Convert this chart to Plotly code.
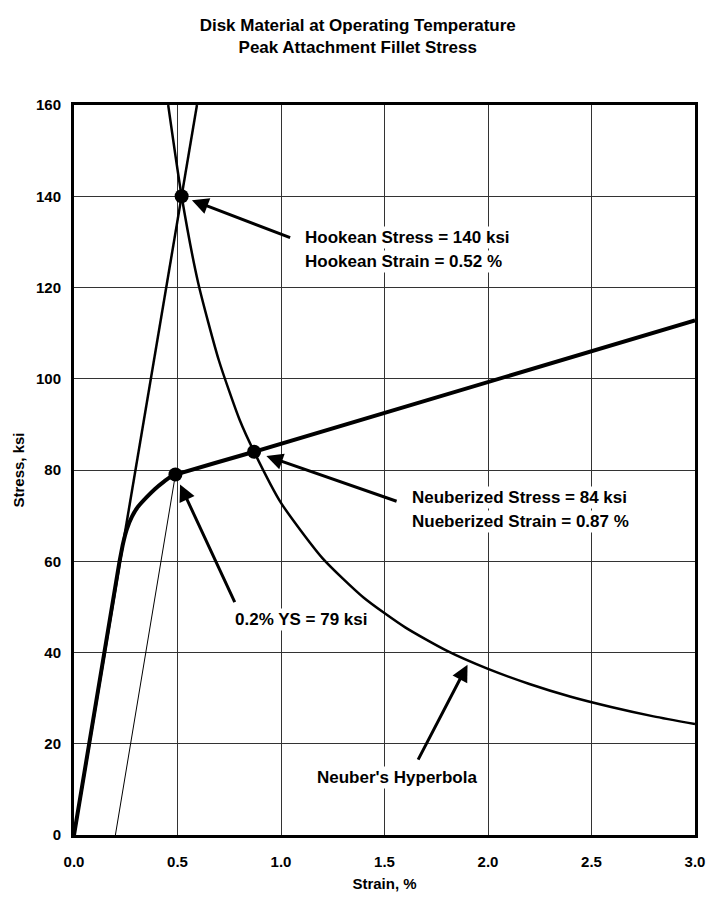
import plotly.graph_objects as go

# ---- data ----
curve_strain = [0.0, 0.22, 0.235, 0.255, 0.28, 0.31, 0.35, 0.39, 0.43, 0.46, 0.49, 0.87, 3.0]
curve_stress = [0.0, 60.0, 63.5, 67.0, 69.8, 72.0, 74.0, 75.8, 77.3, 78.3, 79.0, 84.0, 112.8]

hooke_strain = [0.0, 0.594]
hooke_stress = [0.0, 160.0]

offset_strain = [0.2, 0.49]
offset_stress = [0.0, 79.0]

neuber_strain = [0.455, 0.52, 0.60, 0.70, 0.80, 0.87, 1.0, 1.2, 1.4, 1.6, 1.8, 2.0, 2.2, 2.4, 2.6, 2.8, 3.0]
neuber_stress = [160.0, 140.0, 121.0, 104.0, 91.0, 84.0, 72.8, 60.7, 52.0, 45.5, 40.4, 36.4, 33.1, 30.3, 28.0, 26.0, 24.3]

point_strain = [0.52, 0.87, 0.49]
point_stress = [140.0, 84.0, 79.0]

x_ticks = [0.0, 0.5, 1.0, 1.5, 2.0, 2.5, 3.0]
x_tick_labels = ["0.0", "0.5", "1.0", "1.5", "2.0", "2.5", "3.0"]
y_ticks = [0, 20, 40, 60, 80, 100, 120, 140, 160]

FONT = "Liberation Sans Narrow, Arial Narrow, Liberation Sans, Arial, sans-serif"
TXT = 17
TICK = 15

fig = go.Figure()
fig.add_trace(go.Scatter(x=offset_strain, y=offset_stress, mode="lines",
                         line=dict(color="black", width=1), hoverinfo="skip"))
fig.add_trace(go.Scatter(x=hooke_strain, y=hooke_stress, mode="lines",
                         line=dict(color="black", width=2.5), hoverinfo="skip"))
fig.add_trace(go.Scatter(x=neuber_strain, y=neuber_stress, mode="lines",
                         line=dict(color="black", width=2.5, shape="spline", smoothing=0.6),
                         hoverinfo="skip"))
fig.add_trace(go.Scatter(x=curve_strain, y=curve_stress, mode="lines",
                         line=dict(color="black", width=4, shape="spline", smoothing=0.2),
                         hoverinfo="skip"))
fig.add_trace(go.Scatter(x=point_strain, y=point_stress, mode="markers",
                         marker=dict(color="black", size=14), hoverinfo="skip"))

# arrows (tip near data point, tail offset in pixels)
arrows = [
    (point_strain[0], point_stress[0], 110, 42, 11),
    (point_strain[1], point_stress[1], 144, 50, 13),
    (point_strain[2], point_stress[2], 60, 129, 11),
    (1.91, 38.1, -52, 100, 4),
]
for x, y, ax, ay, so in arrows:
    fig.add_annotation(x=x, y=y, ax=ax, ay=ay, xref="x", yref="y", text="",
                       showarrow=True, arrowhead=2, arrowsize=1.1, arrowwidth=3,
                       arrowcolor="black", standoff=so)

labels = [
    (1.106, 131.0, "Hookean Stress = 140 ksi"),
    (1.106, 125.8, "Hookean Strain = 0.52 %"),
    (1.623, 74.0, "Neuberized Stress = 84 ksi"),
    (1.623, 68.7, "Nueberized Strain = 0.87 %"),
    (0.768, 47.2, "0.2% YS = 79 ksi"),
    (1.164, 12.7, "Neuber's Hyperbola"),
]
for x, y, t in labels:
    fig.add_annotation(x=x, y=y, xref="x", yref="y", text=t, showarrow=False,
                       xanchor="left", yanchor="middle", bgcolor="white", borderpad=1,
                       font=dict(family=FONT, size=TXT, color="black", weight="bold"))

axis_common = dict(showline=True, linecolor="black", linewidth=3, mirror=True,
                   showgrid=True, gridcolor="#333333", gridwidth=1, zeroline=False,
                   automargin=False,
                   ticks="", tickfont=dict(family=FONT, size=TICK, color="black", weight="bold"))

fig.update_xaxes(range=[0, 3.0], tickvals=x_ticks, ticktext=x_tick_labels,
                 ticklabelstandoff=11,
                 title=dict(text="Strain, %",
                            font=dict(family=FONT, size=TICK, color="black", weight="bold"),
                            standoff=10),
                 **axis_common)
fig.update_yaxes(range=[0, 160], tickvals=y_ticks, ticklabelstandoff=7,
                 title=dict(text="Stress, ksi",
                            font=dict(family=FONT, size=TICK, color="black", weight="bold"),
                            standoff=8),
                 **axis_common)

# page body adds an 8px offset; figure sized so the plot lands where the reference has it
fig.update_layout(
    width=708, height=892,
    margin=dict(l=66, r=21, t=97, b=65),
    paper_bgcolor="white", plot_bgcolor="white",
    showlegend=False,
    title=dict(text="Disk Material at Operating Temperature<br>Peak Attachment Fillet Stress",
               x=0.494, xanchor="center", y=1 - 23 / 892, yanchor="middle",
               font=dict(family=FONT, size=TXT, color="black", weight="bold")),
)

fig.write_html("out.html")
